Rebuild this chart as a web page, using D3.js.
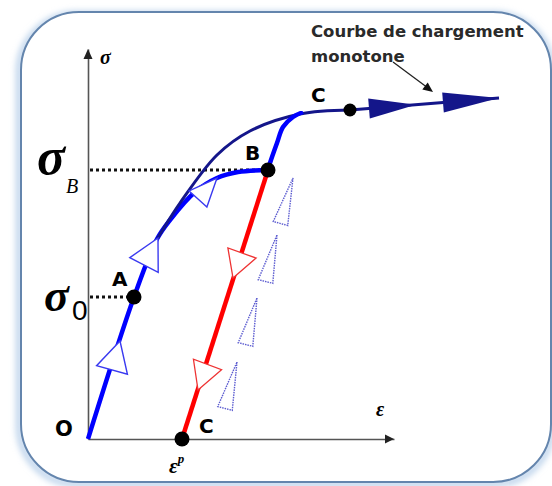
<!DOCTYPE html>
<html>
<head>
<meta charset="utf-8">
<script src="https://cdn.jsdelivr.net/npm/d3@7"></script>
<style>
body { margin: 0; background: #fff; }
</style>
</head>
<body>
<div id="chart"></div>
<script>
// strain (eps) / stress (sig) pairs, arbitrary units
var monotone = [[62,188],[74,208],[92,236],[129,284],[162,308],[212,325],[262,329]];
var loading = [[0,0],[46,142],[69,200],[82,219],[107,247],[129,261],[150,267],[180,269]];
var reloading = [[180,269],[182,276],[189,296],[195,312],[205,322],[215,327]];
var unloading = [[180,269],[94,0]];
var monotoneTail = [[262,329],[411,341]];
var tailHeads = [[281,328],[355,411]];          // [base eps, tip eps]
var points = [
  {name: "A", e: 46, s: 142},
  {name: "B", e: 180, s: 269},
  {name: "C", e: 262, s: 329},
  {name: "C", e: 94, s: 0}
];
var levels = [{sub: "0", e: 46, s: 142}, {sub: "B", e: 180, s: 269}];
// hollow arrow marks: [tip eps, tip sig, base eps, base sig, half width]
var blueArrows = [[32,98,24,69,16],[70,201,56,174,16],[129,261,110,240,12]];
var redArrows = [[145,161,154,186,15],[110,49,119.5,74.5,15]];
var dottedArrows = [[205,261,192.5,215.5,7.5],[189,204,177.5,157.5,7.5],[169,141,157.5,94.5,7.5],[149,77,137,30.5,7.5]];

var width = 552, height = 486;

var svg = d3.select("#chart")
    .append("svg")
    .attr("width", width)
    .attr("height", height);

var defs = svg.append("defs");
defs.append("filter").attr("id", "glow")
    .attr("x", "-10%").attr("y", "-10%").attr("width", "120%").attr("height", "120%")
    .append("feGaussianBlur").attr("stdDeviation", 3);

// rounded frame
svg.append("rect")
    .attr("x", 19).attr("y", 14).attr("width", 533).attr("height", 470)
    .attr("rx", 58)
    .attr("fill", "none")
    .attr("stroke", "#b9d0ea")
    .attr("stroke-width", 6)
    .attr("filter", "url(#glow)");
svg.append("rect")
    .attr("x", 21).attr("y", 12).attr("width", 530).attr("height", 470)
    .attr("rx", 58)
    .attr("fill", "#fff")
    .attr("stroke", "#6485ad")
    .attr("stroke-width", 2);

var x = d3.scaleLinear().domain([0, 306]).range([88, 394]);
var y = d3.scaleLinear().domain([0, 390]).range([439, 49]);

var g = svg.append("g");

// axes, no ticks
g.append("g")
    .attr("transform", "translate(0," + y(0) + ")")
    .call(d3.axisBottom(x).tickValues([]).tickSizeOuter(0))
    .select(".domain").attr("stroke", "#555").attr("stroke-width", 1.6);
g.append("g")
    .attr("transform", "translate(" + x(0) + ",0)")
    .call(d3.axisLeft(y).tickValues([]).tickSizeOuter(0))
    .select(".domain").attr("stroke", "#555").attr("stroke-width", 1.6);

g.append("path")
    .attr("d", "M" + x(306) + "," + y(0) + "l-9,-4.5l0,9z")
    .attr("fill", "#222");
g.append("path")
    .attr("d", "M" + x(0) + "," + y(390) + "l-4.5,10l9,0z")
    .attr("fill", "#222");

// dotted levels sigma_0 and sigma_B
g.selectAll(".level")
    .data(levels)
    .join("line")
    .attr("x1", x(0) + 2).attr("x2", d => x(d.e))
    .attr("y1", d => y(d.s)).attr("y2", d => y(d.s))
    .attr("stroke", "#111")
    .attr("stroke-width", 3)
    .attr("stroke-dasharray", "3,3");

var line = d3.line().x(d => x(d[0])).y(d => y(d[1])).curve(d3.curveCatmullRom);

g.append("path").datum(loading)
    .attr("d", line).attr("fill", "none")
    .attr("stroke", "#0000ff").attr("stroke-width", 4.5);
g.append("path").datum(monotone)
    .attr("d", line).attr("fill", "none")
    .attr("stroke", "#14168a").attr("stroke-width", 3);
g.append("path").datum(reloading)
    .attr("d", line).attr("fill", "none")
    .attr("stroke", "#0000ff").attr("stroke-width", 4.5);
g.append("path").datum(unloading)
    .attr("d", line).attr("fill", "none")
    .attr("stroke", "#ff0000").attr("stroke-width", 4.5);
g.append("path").datum(monotoneTail)
    .attr("d", line).attr("fill", "none")
    .attr("stroke", "#14168a").attr("stroke-width", 3);

// filled heads on the monotone tail
function tailSig(e) {
    var a = monotoneTail[0], b = monotoneTail[1];
    return a[1] + (b[1] - a[1]) * (e - a[0]) / (b[0] - a[0]);
}
function tri(d) {
    var tx = x(d[0]), ty = y(d[1]), bx = x(d[2]), by = y(d[3]);
    var dx = tx - bx, dy = ty - by, len = Math.sqrt(dx * dx + dy * dy);
    var nx = -dy / len * d[4], ny = dx / len * d[4];
    return "M" + tx + "," + ty + "L" + (bx + nx) + "," + (by + ny) + "L" + (bx - nx) + "," + (by - ny) + "Z";
}
g.selectAll(".head")
    .data(tailHeads)
    .join("path")
    .attr("d", d => tri([d[1], tailSig(d[1]), d[0], tailSig(d[0]), 10]))
    .attr("fill", "#14168a");

g.selectAll(".darrow")
    .data(dottedArrows)
    .join("path")
    .attr("d", tri)
    .attr("fill", "none")
    .attr("stroke", "#5c5cd0")
    .attr("stroke-width", 1.4)
    .attr("stroke-dasharray", "1.5,1");

g.selectAll(".barrow")
    .data(blueArrows)
    .join("path")
    .attr("d", tri)
    .attr("fill", "#fff")
    .attr("stroke", "#3a3af0")
    .attr("stroke-width", 1.4);

g.selectAll(".rarrow")
    .data(redArrows)
    .join("path")
    .attr("d", tri)
    .attr("fill", "#fff")
    .attr("stroke", "#e33")
    .attr("stroke-width", 1.3);

g.selectAll(".pt")
    .data(points)
    .join("circle")
    .attr("cx", d => x(d.e)).attr("cy", d => y(d.s))
    .attr("r", (d, i) => i == 2 ? 6.5 : 7.5)
    .attr("fill", "#000");

// point letters
var letterDx = [-22, -23, -39, 17], letterDy = [-11, -10, -8, -6];
g.selectAll(".pl")
    .data(points)
    .join("text")
    .attr("x", (d, i) => x(d.e) + letterDx[i])
    .attr("y", (d, i) => y(d.s) + letterDy[i])
    .style("font", "bold 20px 'DejaVu Sans'")
    .attr("fill", "#000")
    .text(d => d.name);

g.append("text")
    .attr("x", 55).attr("y", 436)
    .style("font", "bold 21px 'DejaVu Sans'")
    .text("O");

// sigma level labels
var levelX = [44, 37], levelDy = [14, 4], sigSize = [46, 52], subX = [72, 66], subY = [320, 193];
var lv = g.selectAll(".lv")
    .data(levels)
    .join("g");
lv.append("text")
    .attr("x", (d, i) => levelX[i])
    .attr("y", (d, i) => y(d.s) + levelDy[i])
    .style("font-family", "'Liberation Serif'")
    .style("font-size", (d, i) => sigSize[i] + "px")
    .style("font-style", "italic").style("font-weight", "bold")
    .text("σ");
lv.append("text")
    .attr("x", (d, i) => subX[i])
    .attr("y", (d, i) => subY[i])
    .style("font-size", (d, i) => i == 0 ? "28px" : "20px")
    .style("font-style", (d, i) => i == 0 ? "normal" : "italic")
    .style("font-family", (d, i) => i == 0 ? "'Liberation Sans Narrow', 'Liberation Sans'" : "'Liberation Serif'")
    .text(d => d.sub);

// axis names
g.append("text")
    .attr("x", 100).attr("y", 64)
    .style("font", "italic bold 20px 'Liberation Serif'")
    .text("σ");
g.append("text")
    .attr("x", 376).attr("y", 416)
    .style("font", "italic bold 20px 'Liberation Serif'")
    .text("ε");
var ep = g.append("text")
    .attr("x", x(94) - 13).attr("y", 473)
    .style("font", "italic bold 21px 'Liberation Serif'");
ep.append("tspan").text("ε");
ep.append("tspan").attr("dy", -10).style("font-size", "13px").text("p");

// annotation
g.append("text")
    .attr("x", 311).attr("y", 37)
    .style("font", "bold 16.5px 'DejaVu Sans'")
    .attr("fill", "#2a2a2a")
    .text("Courbe de chargement");
g.append("text")
    .attr("x", 311).attr("y", 62)
    .style("font", "bold 16.5px 'DejaVu Sans'")
    .attr("fill", "#2a2a2a")
    .text("monotone");

var ax0 = 393, ay0 = 62, ax1 = 433, ay1 = 92;
g.append("line")
    .attr("x1", ax0).attr("y1", ay0).attr("x2", ax1 - 5).attr("y2", ay1 - 4)
    .attr("stroke", "#222").attr("stroke-width", 1.3);
g.append("path")
    .attr("d", tri([x.invert(ax1), y.invert(ay1), x.invert(ax1 - 8), y.invert(ay1 - 6), 4.5]))
    .attr("fill", "#111");
</script>
</body>
</html>
